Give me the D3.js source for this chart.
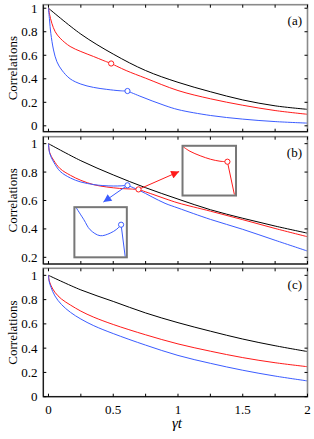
<!DOCTYPE html>
<html>
<head>
<meta charset="utf-8">
<script src="https://cdn.jsdelivr.net/npm/d3@7/dist/d3.min.js"></script>
<style>
  body { margin: 0; background: #fff; }
</style>
</head>
<body>
<div id="chart"></div>
<script>
// ---- panel (a) ----
const blackA_t = [0, 0.25, 0.5, 0.75, 1, 1.25, 1.5, 1.75, 2];
const blackA_v = [1, 0.78, 0.61, 0.47, 0.37, 0.29, 0.22, 0.17, 0.14];
const redA_t = [0, 0.008, 0.026, 0.052, 0.09, 0.167, 0.25, 0.347, 0.42, 0.484, 0.6, 0.75, 1, 1.25, 1.5, 1.75, 2];
const redA_v = [1, 0.95, 0.872, 0.8, 0.745, 0.675, 0.632, 0.59, 0.557, 0.53, 0.47, 0.405, 0.3, 0.23, 0.175, 0.13, 0.098];
const blueA_t = [0, 0.008, 0.018, 0.039, 0.065, 0.103, 0.167, 0.25, 0.347, 0.45, 0.553, 0.61, 0.7, 0.8, 0.9, 1, 1.25, 1.5, 1.75, 2];
const blueA_v = [1, 0.9, 0.787, 0.645, 0.545, 0.474, 0.4, 0.355, 0.327, 0.31, 0.298, 0.296, 0.255, 0.212, 0.172, 0.138, 0.088, 0.057, 0.036, 0.023];
const markersA = [[0.484, 0.53, "red"], [0.61, 0.296, "blue"]];

// ---- panel (b) ----
const blackB_t = [0, 0.25, 0.5, 0.75, 1, 1.25, 1.5, 1.75, 2];
const blackB_v = [1, 0.88, 0.78, 0.69, 0.61, 0.535, 0.475, 0.42, 0.37];
const redB_t = [0, 0.01, 0.04, 0.09, 0.17, 0.25, 0.35, 0.45, 0.55, 0.63, 0.695, 0.8, 0.9, 1, 1.25, 1.5, 1.75, 2];
const redB_v = [1, 0.935, 0.883, 0.824, 0.777, 0.742, 0.711, 0.695, 0.685, 0.681, 0.678, 0.645, 0.613, 0.583, 0.525, 0.465, 0.403, 0.345];
const blueB_t = [0, 0.01, 0.04, 0.09, 0.17, 0.25, 0.35, 0.42, 0.5, 0.56, 0.61, 0.7, 0.8, 0.9, 1, 1.25, 1.5, 1.75, 2];
const blueB_v = [1, 0.93, 0.871, 0.805, 0.758, 0.73, 0.712, 0.705, 0.702, 0.703, 0.707, 0.672, 0.625, 0.58, 0.547, 0.467, 0.397, 0.32, 0.244];
const markersB = [[0.695, 0.678, "red"], [0.61, 0.707, "blue"]];

// zoomed insets of panel (b)
const insetBlue_t = [0.33, 0.378, 0.416, 0.477, 0.538, 0.579, 0.605, 0.63];
const insetBlue_v = [0.7119, 0.708, 0.7048, 0.7029, 0.7037, 0.705, 0.7064, 0.6962];
const insetRed_t = [0.503, 0.532, 0.576, 0.62, 0.661, 0.693, 0.723];
const insetRed_v = [0.6846, 0.6828, 0.681, 0.6796, 0.6788, 0.6786, 0.6654];

// ---- panel (c) ----
const blackC_t = [0, 0.25, 0.5, 0.75, 1, 1.25, 1.5, 1.75, 2];
const blackC_v = [1, 0.88, 0.785, 0.69, 0.61, 0.54, 0.475, 0.42, 0.372];
const redC_t = [0, 0.005, 0.02, 0.05, 0.1, 0.17, 0.25, 0.35, 0.5, 0.75, 1, 1.25, 1.5, 1.75, 2];
const redC_v = [1, 0.96, 0.915, 0.86, 0.805, 0.755, 0.705, 0.655, 0.595, 0.51, 0.435, 0.375, 0.322, 0.28, 0.247];
const blueC_t = [0, 0.005, 0.02, 0.05, 0.1, 0.17, 0.25, 0.35, 0.5, 0.75, 1, 1.25, 1.5, 1.75, 2];
const blueC_v = [1, 0.95, 0.9, 0.83, 0.76, 0.695, 0.64, 0.585, 0.52, 0.425, 0.34, 0.275, 0.218, 0.17, 0.13];

const xTicks = [0, 0.25, 0.5, 0.75, 1, 1.25, 1.5, 1.75, 2];
const xTickLabels = ["0", "", "0.5", "", "1", "", "1.5", "", "2"];
const yTicksA = [0, 0.2, 0.4, 0.6, 0.8, 1];
const yTicksB = [0.2, 0.4, 0.6, 0.8, 1];
const yTicksC = [0, 0.2, 0.4, 0.6, 0.8, 1];

const colors = { black: "#000", red: "#ff1a1a", blue: "#3b5cff" };
const serif = "'Liberation Serif', 'Times New Roman', Times, serif";

const W = 314, H = 439;
const left = 43.3, right = 307.5;

const svg = d3.select("#chart").append("svg")
  .attr("width", W).attr("height", H)
  .attr("font-family", serif);

const defs = svg.append("defs");
["red", "blue"].forEach(function(c) {
  defs.append("marker")
    .attr("id", "arrow-" + c)
    .attr("viewBox", "0 0 10 10")
    .attr("refX", 10).attr("refY", 5)
    .attr("markerWidth", 9).attr("markerHeight", 8)
    .attr("markerUnits", "userSpaceOnUse")
    .attr("orient", "auto")
    .append("path").attr("d", "M0,0 L10,5 L0,10 z").attr("fill", colors[c]);
});

const x = d3.scaleLinear().domain([-0.04, 2]).range([left, right]);

const panels = [
  { label: "(a)", top: 4.7, bottom: 131.7, ydom: [-0.05, 1.03], yTicks: yTicksA,
    series: [[blackA_t, blackA_v, "black"], [redA_t, redA_v, "red"], [blueA_t, blueA_v, "blue"]],
    markers: markersA },
  { label: "(b)", top: 136.7, bottom: 264, ydom: [0.153, 1.049], yTicks: yTicksB,
    series: [[blackB_t, blackB_v, "black"], [redB_t, redB_v, "red"], [blueB_t, blueB_v, "blue"]],
    markers: markersB },
  { label: "(c)", top: 268.3, bottom: 396.7, ydom: [0, 1.058], yTicks: yTicksC,
    series: [[blackC_t, blackC_v, "black"], [redC_t, redC_v, "red"], [blueC_t, blueC_v, "blue"]],
    markers: [] }
];

function fmt(d) { return d === 0 ? "0" : d3.format("~g")(d); }

panels.forEach(function(p, i) {
  const y = d3.scaleLinear().domain(p.ydom).range([p.bottom, p.top]);
  const g = svg.append("g");
  const clipId = "clip" + i;
  defs.append("clipPath").attr("id", clipId)
    .append("rect").attr("x", left).attr("y", p.top)
    .attr("width", right - left).attr("height", p.bottom - p.top);

  // curves, split at the circle marker so the kink stays sharp
  const line = d3.line().x(d => x(d[0])).y(d => y(d[1])).curve(d3.curveCatmullRom.alpha(0.5));
  p.series.forEach(function(s) {
    const pts = s[0].map((t, k) => [t, s[1][k]]);
    const m = p.markers.find(mk => mk[2] === s[2]);
    let pieces = [pts];
    if (m) {
      const j = s[0].indexOf(m[0]);
      pieces = [pts.slice(0, j + 1), pts.slice(j)];
    }
    pieces.forEach(function(piece) {
      g.append("path").datum(piece)
        .attr("clip-path", "url(#" + clipId + ")")
        .attr("d", line)
        .attr("fill", "none")
        .attr("stroke", colors[s[2]])
        .attr("stroke-width", 1);
    });
  });

  // box: grey top/right, black left/bottom
  g.append("rect").attr("x", left).attr("y", p.top)
    .attr("width", right - left).attr("height", p.bottom - p.top)
    .attr("fill", "none").attr("stroke", "#8a8a8a").attr("stroke-width", 1.6);
  g.append("line").attr("x1", left).attr("x2", left).attr("y1", p.top).attr("y2", p.bottom)
    .attr("stroke", "#000").attr("stroke-width", 1);
  g.append("line").attr("x1", left).attr("x2", right).attr("y1", p.bottom).attr("y2", p.bottom)
    .attr("stroke", "#000").attr("stroke-width", 1);

  // inward ticks on all four sides
  const tl = 3;
  p.yTicks.forEach(function(v) {
    g.append("line").attr("x1", left).attr("x2", left + tl).attr("y1", y(v)).attr("y2", y(v))
      .attr("stroke", "#000").attr("stroke-width", 1);
    g.append("line").attr("x1", right).attr("x2", right - tl).attr("y1", y(v)).attr("y2", y(v))
      .attr("stroke", "#000").attr("stroke-width", 1);
    g.append("text").attr("x", 37.5).attr("y", y(v)).attr("dy", "0.35em")
      .attr("text-anchor", "end").attr("font-size", 13).text(fmt(v));
  });
  xTicks.forEach(function(t, k) {
    g.append("line").attr("x1", x(t)).attr("x2", x(t)).attr("y1", p.bottom).attr("y2", p.bottom - tl)
      .attr("stroke", "#000").attr("stroke-width", 1);
    g.append("line").attr("x1", x(t)).attr("x2", x(t)).attr("y1", p.top).attr("y2", p.top + tl)
      .attr("stroke", "#000").attr("stroke-width", 1);
    if (i === 2 && xTickLabels[k] !== "") {
      g.append("text").attr("x", x(t)).attr("y", 413.5)
        .attr("text-anchor", "middle").attr("font-size", 13).text(xTickLabels[k]);
    }
  });

  // y label
  g.append("text")
    .attr("transform", "translate(16.5," + ((p.top + p.bottom) / 2) + ") rotate(-90)")
    .attr("text-anchor", "middle").attr("font-size", 13).text("Correlations");

  // panel label
  g.append("text").attr("x", 302).attr("y", p.top + 20.3)
    .attr("text-anchor", "end").attr("font-size", 13).text(p.label);

  p.y = y;
  p.g = g;
});

// insets and arrows for panel (b)
const pb = panels[1];
const yb = pb.y;
const insets = [
  { color: "blue", t: insetBlue_t, v: insetBlue_v, xdom: [0.32, 0.64], ydom: [0.696, 0.712],
    box: [0.2, 0.605, 0.2, 0.553], from: markersB[1], tip: [0.424, 0.589] },
  { color: "red", t: insetRed_t, v: insetRed_v, xdom: [0.5, 0.73], ydom: [0.665, 0.685],
    box: [1.035, 1.448, 0.635, 0.985], from: markersB[0], tip: [1.009, 0.804] }
];

insets.forEach(function(ins, k) {
  const x0 = x(ins.box[0]), x1 = x(ins.box[1]);
  const y0 = yb(ins.box[3]), y1 = yb(ins.box[2]);
  const ix = d3.scaleLinear().domain(ins.xdom).range([x0, x1]);
  const iy = d3.scaleLinear().domain(ins.ydom).range([y1, y0]);
  const clipId = "inclip" + k;
  defs.append("clipPath").attr("id", clipId)
    .append("rect").attr("x", x0).attr("y", y0).attr("width", x1 - x0).attr("height", y1 - y0);
  pb.g.append("rect").attr("x", x0).attr("y", y0).attr("width", x1 - x0).attr("height", y1 - y0)
    .attr("fill", "#fff");
  const pts = ins.t.map((t, j) => [t, ins.v[j]]);
  const mi = ins.t.length - 2;
  const iline = d3.line().x(d => ix(d[0])).y(d => iy(d[1])).curve(d3.curveCatmullRom.alpha(0.5));
  [pts.slice(0, mi + 1), pts.slice(mi)].forEach(function(piece) {
    pb.g.append("path").datum(piece)
      .attr("clip-path", "url(#" + clipId + ")")
      .attr("d", iline)
      .attr("fill", "none").attr("stroke", colors[ins.color]).attr("stroke-width", 1);
  });
  pb.g.append("circle").attr("cx", ix(ins.t[mi])).attr("cy", iy(ins.v[mi])).attr("r", 2.6)
    .attr("fill", "#fff").attr("stroke", colors[ins.color]).attr("stroke-width", 1);
  pb.g.append("rect").attr("x", x0).attr("y", y0).attr("width", x1 - x0).attr("height", y1 - y0)
    .attr("fill", "none").attr("stroke", "#777").attr("stroke-width", 2);

  // arrow from the marker to the inset
  const sx = x(ins.from[0]), sy = yb(ins.from[1]);
  const ex = x(ins.tip[0]), ey = yb(ins.tip[1]);
  const len = Math.hypot(ex - sx, ey - sy);
  const ux = (ex - sx) / len, uy = (ey - sy) / len;
  pb.g.append("line")
    .attr("x1", sx + ux * 2.6).attr("y1", sy + uy * 2.6)
    .attr("x2", ex).attr("y2", ey)
    .attr("stroke", colors[ins.color]).attr("stroke-width", 1)
    .attr("marker-end", "url(#arrow-" + ins.color + ")");
});

// circle markers on the main curves
panels.forEach(function(p) {
  p.markers.forEach(function(m) {
    p.g.append("circle").attr("cx", x(m[0])).attr("cy", p.y(m[1])).attr("r", 2.6)
      .attr("fill", "#fff").attr("stroke", colors[m[2]]).attr("stroke-width", 1);
  });
});

// x label
svg.append("text").attr("x", 177).attr("y", 428)
  .attr("text-anchor", "middle").attr("font-size", 15).attr("font-style", "italic")
  .text("γt");
</script>
</body>
</html>
